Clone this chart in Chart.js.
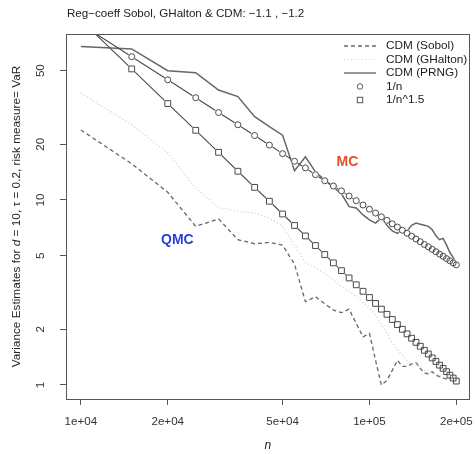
<!DOCTYPE html>
<html>
<head>
<meta charset="utf-8">
<script src="https://cdn.jsdelivr.net/npm/chart.js@4.4.0/dist/chart.umd.min.js"></script>
<style>
  body { margin: 0; background: #fff; }
  #wrap { width: 475px; height: 454px; position: relative; }
</style>
</head>
<body>
<div id="wrap"><canvas id="chart"></canvas></div>
<script>
// sample sizes
const nValues = [10000, 15000, 20000, 25000, 30000, 35000, 40000, 45000, 50000, 55000,
  60000, 65000, 70000, 75000, 80000, 85000, 90000, 95000, 100000, 105000,
  110000, 115000, 120000, 125000, 130000, 135000, 140000, 145000, 150000, 155000,
  160000, 165000, 170000, 175000, 180000, 185000, 190000, 195000, 200000];

// variance estimates
const sobolVar = [23.9, 15.7, 11.0, 7.2, 7.9, 6.1, 5.8, 5.9, 5.7, 4.5,
  2.82, 3.0, 2.75, 2.54, 2.46, 2.57, 2.15, 1.82, 1.90, 1.36,
  1.0, 1.06, 1.2, 1.36, 1.26, 1.26, 1.30, 1.32, 1.23, 1.16,
  1.15, 1.18, 1.13, 1.11, 1.09, 1.08, 1.07, 1.06, 1.05];
const ghaltonVar = [37.8, 25.5, 18.0, 11.6, 9.1, 8.7, 8.5, 8.0, 7.2, 5.7,
  4.6, 4.3, 4.0, 3.7, 3.4, 3.2, 3.0, 2.8, 2.6, 2.4,
  2.1, 1.9, 1.7, 1.55, 1.45, 1.35, 1.3, 1.3, 1.25, 1.2,
  1.2, 1.15, 1.15, 1.12, 1.1, 1.1, 1.08, 1.07, 1.06];
const prngVar = [67.5, 65.5, 50.0, 48.7, 39.3, 36.2, 28.2, 24.9, 22.4, 14.4,
  17.1, 14.2, 12.8, 11.7, 10.8, 9.2, 9.05, 8.3, 7.8, 7.5,
  8.0, 7.3, 6.8, 6.6, 6.9, 6.8, 7.3, 7.5, 7.4, 7.3,
  7.2, 6.9, 6.4, 6.1, 6.2, 5.7, 5.2, 4.9, 4.5];
const rateN = [89.2, 59.5, 44.6, 35.7, 29.7, 25.5, 22.3, 19.8, 17.8, 16.2,
  14.9, 13.7, 12.7, 11.9, 11.2, 10.5, 9.91, 9.39, 8.92, 8.50,
  8.11, 7.76, 7.43, 7.14, 6.86, 6.61, 6.37, 6.15, 5.95, 5.75,
  5.58, 5.41, 5.25, 5.10, 4.96, 4.82, 4.69, 4.57, 4.46];
const rateN15 = [93.9, 51.1, 33.2, 23.8, 18.1, 14.3, 11.7, 9.84, 8.40, 7.28,
  6.39, 5.67, 5.07, 4.57, 4.15, 3.79, 3.48, 3.21, 2.97, 2.76,
  2.57, 2.41, 2.26, 2.12, 2.00, 1.89, 1.79, 1.70, 1.62, 1.54,
  1.47, 1.40, 1.34, 1.28, 1.23, 1.18, 1.13, 1.09, 1.05];

const xTicks = [1e4, 2e4, 5e4, 1e5, 2e5];
const xTickLabels = ["1e+04", "2e+04", "5e+04", "1e+05", "2e+05"];
const yTicks = [1, 2, 5, 10, 20, 50];
const yTickLabels = ["1", "2", "5", "10", "20", "50"];

const FONT = "'Liberation Sans', Arial, Helvetica, sans-serif";
const pts = (vals) => nValues.map((n, i) => ({ x: n, y: vals[i] }));

// where the MC / QMC tags sit (data coords)
const mcTag = { x: 83900, y: 16.0 };
const qmcTag = { x: 21600, y: 6.08 };

const decor = {
  id: "decor",
  afterDraw(chart) {
    const ctx = chart.ctx;
    const a = chart.chartArea;
    const xs = chart.scales.x, ys = chart.scales.y;
    ctx.save();

    // box
    ctx.strokeStyle = "#555";
    ctx.lineWidth = 1;
    ctx.strokeRect(Math.round(a.left) + 0.5, Math.round(a.top) + 0.5,
      Math.round(a.right - a.left) - 1, Math.round(a.bottom - a.top));

    // title
    ctx.fillStyle = "#222";
    ctx.font = "11.6px " + FONT;
    ctx.textBaseline = "middle";
    ctx.textAlign = "left";
    ctx.fillText("Reg\u2212coeff Sobol, GHalton & CDM: \u22121.1 , \u22121.2", 67, 14);

    // y tick labels (rotated, R style)
    ctx.font = "11.6px " + FONT;
    ctx.fillStyle = "#333";
    yTicks.forEach((v, i) => {
      const py = ys.getPixelForValue(v);
      ctx.save();
      ctx.translate(41, py);
      ctx.rotate(-Math.PI / 2);
      ctx.textAlign = "center";
      ctx.fillText(yTickLabels[i], 0, 0);
      ctx.restore();
    });

    // y axis title with italic d
    const parts = [
      ["Variance Estimates for ", "11.8px " + FONT],
      ["d", "italic 11.8px " + FONT],
      [" = 10, \u03c4 = 0.2, risk measure= VaR", "11.8px " + FONT],
    ];
    let total = 0;
    parts.forEach(p => { ctx.font = p[1]; total += ctx.measureText(p[0]).width; });
    ctx.save();
    ctx.translate(17, (a.top + a.bottom) / 2);
    ctx.rotate(-Math.PI / 2);
    ctx.textAlign = "left";
    ctx.fillStyle = "#222";
    let cx = -total / 2;
    parts.forEach(p => { ctx.font = p[1]; ctx.fillText(p[0], cx, 0); cx += ctx.measureText(p[0]).width; });
    ctx.restore();

    // legend
    const rows = [46, 59.5, 73, 86.5, 100];
    const names = ["CDM (Sobol)", "CDM (GHalton)", "CDM (PRNG)", "1/n", "1/n^1.5"];
    ctx.font = "11.8px " + FONT;
    ctx.fillStyle = "#222";
    ctx.textAlign = "left";
    names.forEach((t, i) => ctx.fillText(t, 386, rows[i]));
    const seg = (y, color, dash, w) => {
      ctx.beginPath();
      ctx.setLineDash(dash);
      ctx.strokeStyle = color;
      ctx.lineWidth = w;
      ctx.moveTo(344, y);
      ctx.lineTo(376, y);
      ctx.stroke();
      ctx.setLineDash([]);
    };
    seg(rows[0], "#6a6a6a", [4, 3], 1.3);
    seg(rows[1], "#d0d0d0", [1, 2.5], 1.2);
    seg(rows[2], "#6e6e6e", [], 1.4);
    ctx.strokeStyle = "#555";
    ctx.lineWidth = 1;
    ctx.beginPath();
    ctx.arc(360, rows[3], 2.8, 0, Math.PI * 2);
    ctx.stroke();
    ctx.strokeRect(357.3, rows[4] - 2.7, 5.4, 5.4);

    // MC / QMC tags
    ctx.font = "bold 14px " + FONT;
    ctx.textAlign = "center";
    ctx.fillStyle = "#e0522c";
    ctx.fillText("MC", xs.getPixelForValue(mcTag.x), ys.getPixelForValue(mcTag.y));
    ctx.fillStyle = "#2b3fd6";
    ctx.fillText("QMC", xs.getPixelForValue(qmcTag.x), ys.getPixelForValue(qmcTag.y));

    ctx.restore();
  }
};

const tickGrid = { display: true, drawOnChartArea: false, drawTicks: true, tickLength: 6, color: "#555" };

new Chart(document.querySelector("#chart").getContext("2d"), {
  type: "line",
  data: {
    datasets: [
      { label: "1/n rings", data: pts(rateN), showLine: false, order: 0,
        pointStyle: "circle", pointRadius: 3, pointBorderWidth: 1,
        pointBorderColor: "#4a4a4a", pointBackgroundColor: "rgba(0,0,0,0)" },
      { label: "1/n^1.5 rings", data: pts(rateN15), showLine: false, order: 0,
        pointStyle: "rect", pointRadius: 4.1, pointBorderWidth: 1,
        pointBorderColor: "#4a4a4a", pointBackgroundColor: "rgba(0,0,0,0)" },
      { label: "1/n", data: pts(rateN), order: 1, borderColor: "#4a4a4a", borderWidth: 1.1,
        pointStyle: "circle", pointRadius: 3.7, pointBorderWidth: 0,
        pointBackgroundColor: "#fff" },
      { label: "1/n^1.5", data: pts(rateN15), order: 1, borderColor: "#4a4a4a", borderWidth: 1.1,
        pointStyle: "rect", pointRadius: 4.9, pointBorderWidth: 0,
        pointBackgroundColor: "#fff" },
      { label: "CDM (PRNG)", data: pts(prngVar), order: 2, borderColor: "#666",
        borderWidth: 1.5, pointRadius: 0 },
      { label: "CDM (GHalton)", data: pts(ghaltonVar), order: 2, borderColor: "#c8c8c8",
        borderWidth: 1.2, borderDash: [1, 2.5], pointRadius: 0 },
      { label: "CDM (Sobol)", data: pts(sobolVar), order: 2, borderColor: "#666",
        borderWidth: 1.3, borderDash: [4, 3], pointRadius: 0 },
    ],
  },
  options: {
    responsive: true,
    maintainAspectRatio: false,
    animation: false,
    devicePixelRatio: 1,
    layout: { padding: { top: 34, right: 3, left: 0, bottom: 0 } },
    elements: { line: { tension: 0 } },
    plugins: { legend: { display: false }, tooltip: { enabled: false } },
    scales: {
      x: {
        type: "logarithmic", min: 8880, max: 222900,
        afterBuildTicks: (s) => { s.ticks = xTicks.map(v => ({ value: v })); },
        afterFit: (s) => { s.height = 55; s.paddingLeft = 0; s.paddingRight = 0; },
        ticks: {
          autoSkip: false, maxRotation: 0, minRotation: 0, padding: 10, color: "#333",
          font: { family: FONT, size: 11.6 },
          callback: (v, i) => xTickLabels[i],
        },
        grid: tickGrid,
        border: { display: false },
        title: { display: true, text: "n", color: "#222",
          font: { family: FONT, size: 12, style: "italic" }, padding: { top: 0, bottom: 1 } },
      },
      y: {
        type: "logarithmic", min: 0.84, max: 78.9,
        afterBuildTicks: (s) => { s.ticks = yTicks.map(v => ({ value: v })); },
        afterFit: (s) => { s.width = 66; s.paddingTop = 0; s.paddingBottom = 0; },
        ticks: { display: false },
        grid: tickGrid,
        border: { display: false },
      },
    },
  },
  plugins: [decor],
});
</script>
</body>
</html>
